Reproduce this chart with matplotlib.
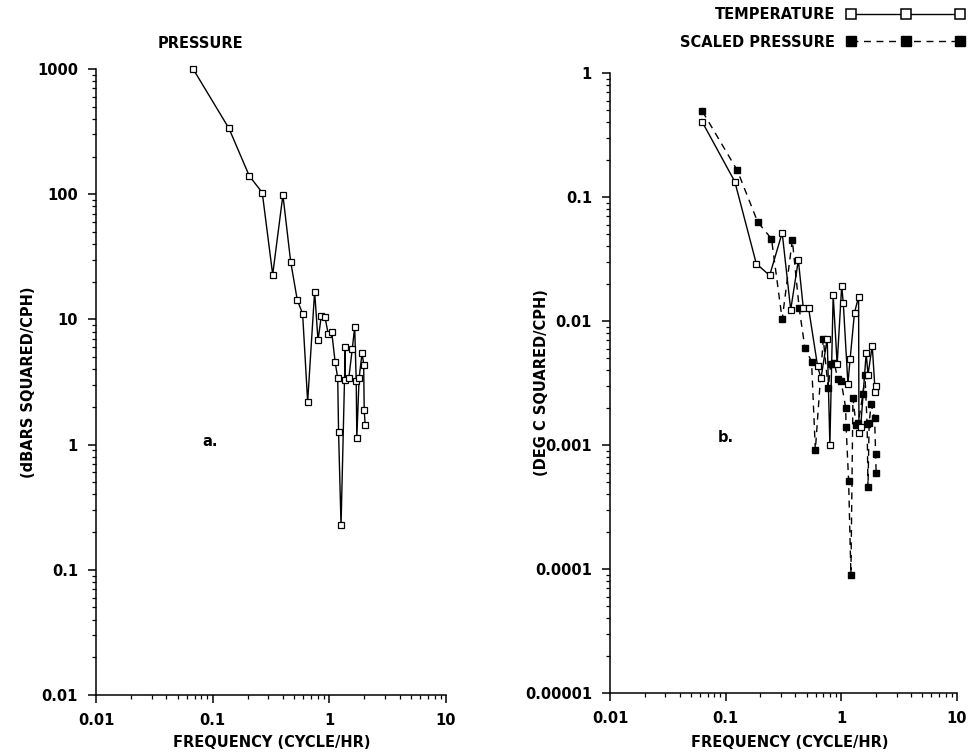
import matplotlib
matplotlib.use("Agg")
import matplotlib.pyplot as plt
from matplotlib.lines import Line2D
from matplotlib.ticker import LogLocator, NullFormatter

# ---------------- data ----------------
# panel a: pressure spectrum
press_freq = [0.068, 0.138, 0.206, 0.266, 0.327, 0.40, 0.466, 0.531, 0.59, 0.652,
              0.748, 0.80, 0.853, 0.916, 0.98, 1.047, 1.12, 1.18, 1.20, 1.26,
              1.37, 1.37, 1.47, 1.57, 1.65, 1.70, 1.72, 1.80, 1.91, 1.97, 1.99, 2.03]
press_val = [1000, 335, 140, 103, 22.8, 98.6, 29, 14.3, 11.1, 2.2,
             16.7, 6.8, 10.6, 10.5, 7.6, 8.0, 4.6, 3.4, 1.25, 0.226,
             5.97, 3.27, 3.42, 5.75, 8.67, 3.2, 1.13, 3.42, 5.4, 4.35, 1.88, 1.43]

# panel b: temperature spectrum
temp_freq = [0.063, 0.12, 0.184, 0.24, 0.308, 0.365, 0.425, 0.469, 0.521, 0.624,
             0.667, 0.755, 0.796, 0.85, 0.92, 1.007, 1.04, 1.14, 1.19, 1.30,
             1.41, 1.42, 1.47, 1.64, 1.70, 1.85, 1.96, 2.0]
temp_val = [0.40, 0.133, 0.029, 0.0233, 0.0515, 0.0123, 0.031, 0.0127, 0.0127, 0.0043,
            0.00345, 0.0072, 0.001, 0.0162, 0.0045, 0.0191, 0.0139, 0.0031, 0.0049, 0.0117,
            0.0157, 0.00125, 0.0014, 0.0055, 0.0037, 0.0063, 0.0027, 0.0030]

# panel b: scaled pressure spectrum
spress_freq = [0.063, 0.126, 0.189, 0.249, 0.308, 0.377, 0.432, 0.484, 0.553, 0.596,
               0.698, 0.77, 0.81, 0.87, 0.93, 0.994, 1.09, 1.10, 1.156, 1.21,
               1.26, 1.34, 1.40, 1.54, 1.60, 1.67, 1.70, 1.74, 1.81, 1.94, 1.98, 2.0]
spress_val = [0.49, 0.164, 0.063, 0.046, 0.0103, 0.045, 0.0127, 0.0061, 0.0047, 0.00091,
              0.0072, 0.00286, 0.00448, 0.0046, 0.0034, 0.0033, 0.0020, 0.0014, 0.000515, 0.0000895,
              0.0024, 0.00145, 0.0015, 0.0026, 0.0037, 0.00148, 0.000456, 0.0015, 0.00214, 0.00164,
              0.00084, 0.00059]

x_ticks = [0.01, 0.1, 1, 10]
x_ticklabels = ["0.01", "0.1", "1", "10"]
ya_ticks = [0.01, 0.1, 1, 10, 100, 1000]
ya_ticklabels = ["0.01", "0.1", "1", "10", "100", "1000"]
yb_ticks = [1e-5, 1e-4, 1e-3, 1e-2, 1e-1, 1]
yb_ticklabels = ["0.00001", "0.0001", "0.001", "0.01", "0.1", "1"]

# ---------------- style ----------------
plt.rcParams['font.family'] = ['DejaVu Sans']
plt.rcParams['font.weight'] = 'bold'
FS = 10.5

fig = plt.figure(figsize=(9.71, 7.56), dpi=100)
W, H = 971, 756


def px_axes(x0, x1, ytop, ybot):
    return fig.add_axes([x0 / W, 1 - ybot / H, (x1 - x0) / W, (ybot - ytop) / H])


def style(ax, yticks, ylabels, ylim):
    ax.set_xscale('log')
    ax.set_yscale('log')
    ax.set_xlim(0.01, 10)
    ax.set_ylim(*ylim)
    for s in ('top', 'right'):
        ax.spines[s].set_visible(False)
    for s in ('left', 'bottom'):
        ax.spines[s].set_linewidth(1.1)
    ax.set_xticks(x_ticks)
    ax.set_xticklabels(x_ticklabels, fontsize=FS, fontweight='bold')
    ax.set_yticks(yticks)
    ax.set_yticklabels(ylabels, fontsize=FS, fontweight='bold')
    ax.xaxis.set_minor_locator(LogLocator(base=10, subs=range(2, 10), numticks=20))
    ax.yaxis.set_minor_locator(LogLocator(base=10, subs=range(2, 10), numticks=20))
    ax.xaxis.set_minor_formatter(NullFormatter())
    ax.yaxis.set_minor_formatter(NullFormatter())
    ax.tick_params(which='major', direction='out', length=6, width=1.1, pad=7)
    ax.tick_params(which='minor', direction='out', length=3, width=0.9)
    ax.set_xlabel("FREQUENCY (CYCLE/HR)", fontsize=FS, fontweight='bold')


# ---------------- panel a ----------------
axa = px_axes(96, 446, 69, 695)
style(axa, ya_ticks, ya_ticklabels, (0.01, 1000))
axa.plot(press_freq, press_val, color='black', lw=1.0, marker='s', ms=3.8,
         mfc='white', mec='black', mew=0.9, clip_on=False)
axa.set_ylabel("(dBARS SQUARED/CPH)", fontsize=FS, fontweight='bold')
axa.yaxis.set_label_coords((36 - 96) / 350, 0.5)
axa.xaxis.set_label_coords((272 - 96) / 350, -(735 - 695) / 626)
axa.text(0.095, 1.05, "a.", fontsize=FS, fontweight='bold', ha='center', va='center')
fig.text(158 / W, 1 - 44 / H, "PRESSURE", fontsize=FS, fontweight='bold',
         ha='left', va='center')

# ---------------- panel b ----------------
axb = px_axes(610, 957, 73, 693)
style(axb, yb_ticks, yb_ticklabels, (1e-5, 1))
axb.plot(spress_freq, spress_val, color='black', lw=1.0, ls=(0, (5, 4)), marker='s',
         ms=4.3, mfc='black', mec='black', clip_on=False)
axb.plot(temp_freq, temp_val, color='black', lw=1.0, marker='s', ms=4.6,
         mfc='white', mec='black', mew=0.9, clip_on=False)
axb.set_ylabel("(DEG C SQUARED/CPH)", fontsize=FS, fontweight='bold')
axb.yaxis.set_label_coords((549 - 610) / 347, 0.5)
axb.xaxis.set_label_coords((790 - 610) / 347, -(735 - 693) / 620)
axb.text(0.1, 0.00115, "b.", fontsize=FS, fontweight='bold', ha='center', va='center')

# ---------------- legend ----------------
handles = [
    Line2D([], [], color='black', lw=1.0, marker='s', ms=6.5, mfc='white', mec='black', mew=1.1),
    Line2D([], [], color='black', lw=1.0, ls=(0, (5, 4)), marker='s', ms=6.5, mfc='black', mec='black'),
]
fig.legend(handles, ["TEMPERATURE", "SCALED PRESSURE"], loc='upper right',
           bbox_to_anchor=(975 / W, 1 + 3 / H), frameon=False, markerfirst=False,
           numpoints=3, handlelength=8.1, handletextpad=0.8, labelspacing=0.85,
           prop={'size': FS, 'weight': 'bold'}, borderpad=0.2)

fig.savefig("out.png", dpi=100)
